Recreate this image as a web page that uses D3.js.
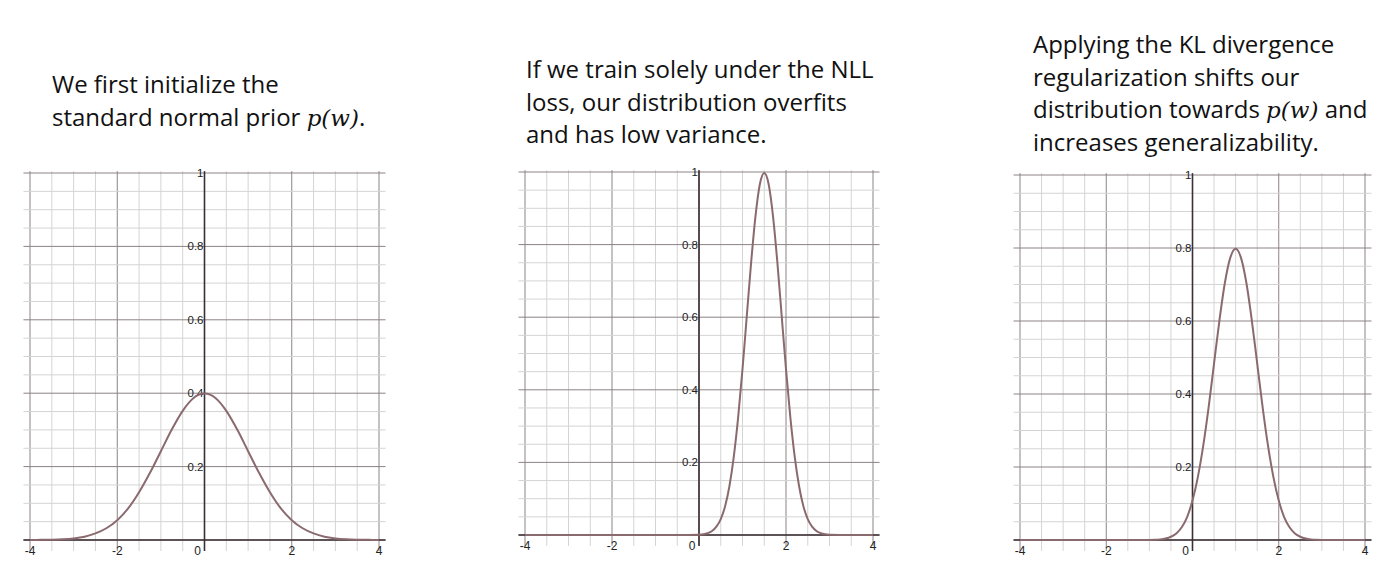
<!DOCTYPE html>
<html><head><meta charset="utf-8">
<script src="https://cdn.jsdelivr.net/npm/d3@7"></script>
<style>body{margin:0;background:#fff}</style>
</head><body><div class="canvas"></div>
<script>
// curve samples
const xs1 = [-4,-3.75,-3.5,-3.25,-3,-2.75,-2.5,-2.25,-2,-1.75,-1.5,-1.25,-1,-0.75,-0.5,-0.25,0,0.25,0.5,0.75,1,1.25,1.5,1.75,2,2.25,2.5,2.75,3,3.25,3.5,3.75,4];
const ys1 = [0.0001,0.0004,0.0009,0.002,0.0044,0.009,0.018,0.032,0.054,0.086,0.130,0.183,0.242,0.301,0.352,0.387,0.399,0.387,0.352,0.301,0.242,0.183,0.130,0.086,0.054,0.032,0.018,0.009,0.0044,0.002,0.0009,0.0004,0.0001];
const xs2 = [-4,-0.5,0,0.1,0.2,0.3,0.4,0.5,0.6,0.7,0.8,0.9,1.0,1.1,1.2,1.3,1.4,1.5,1.6,1.7,1.8,1.9,2.0,2.1,2.2,2.3,2.4,2.5,2.6,2.7,2.8,2.9,3.0,3.5,4];
const ys2 = [0,0,0.001,0.002,0.005,0.011,0.023,0.044,0.079,0.135,0.216,0.324,0.457,0.605,0.753,0.880,0.967,0.997,0.967,0.880,0.753,0.605,0.457,0.324,0.216,0.135,0.079,0.044,0.023,0.011,0.005,0.002,0.001,0,0];
const xs3 = [-4,-1.5,-1,-0.875,-0.75,-0.625,-0.5,-0.375,-0.25,-0.125,0,0.125,0.25,0.375,0.5,0.625,0.75,0.875,1,1.125,1.25,1.375,1.5,1.625,1.75,1.875,2,2.125,2.25,2.375,2.5,2.625,2.75,2.875,3,3.5,4];
const ys3 = [0,0,0.0003,0.0007,0.0017,0.004,0.0089,0.018,0.035,0.063,0.108,0.173,0.259,0.365,0.484,0.602,0.704,0.773,0.798,0.773,0.704,0.602,0.484,0.365,0.259,0.173,0.108,0.063,0.035,0.018,0.0089,0.004,0.0017,0.0007,0.0003,0,0];
const xTicks = [-4,-2,0,2,4];
const yTicks = [0.2,0.4,0.6,0.8,1];

const titles1 = [["We first initialize the"],["standard normal prior ", "p(w)", "."]];
const titles2 = [["If we train solely under the NLL"],["loss, our distribution overfits"],["and has low variance."]];
const titles3 = [["Applying the KL divergence"],["regularization shifts our"],["distribution towards ","p(w)"," and"],["increases generalizability."]];

const svg = d3.select('.canvas').append('svg').attr('width',1400).attr('height',582);

const panels = [
  {xs: xs1, ys: ys1, x0: 30, x1: 379, y0: 540, y1: 173, titles: titles1, tx: 52, ty: 93},
  {xs: xs2, ys: ys2, x0: 525, x1: 873, y0: 535, y1: 172, titles: titles2, tx: 526, ty: 78},
  {xs: xs3, ys: ys3, x0: 1020, x1: 1365, y0: 540, y1: 175, titles: titles3, tx: 1033, ty: 53}
];

panels.forEach(p => {
  const x = d3.scaleLinear().domain([-4,4]).range([p.x0,p.x1]);
  const y = d3.scaleLinear().domain([0,1]).range([p.y0,p.y1]);
  const g = svg.append('g');
  const gx0 = x(-4.15), gx1 = x(4.15), gy0 = y(-0.03), gy1 = y(1.005);

  // minor and major grid
  d3.range(-8,9).forEach(i => {
    const v = i*0.5;
    g.append('line').attr('x1',x(v)).attr('x2',x(v)).attr('y1',gy0).attr('y2',gy1)
      .attr('stroke', i%4===0 ? '#8c8286' : '#d4d4d4').attr('stroke-width',1);
  });
  d3.range(0,21).forEach(i => {
    const v = i*0.05;
    g.append('line').attr('y1',y(v)).attr('y2',y(v)).attr('x1',gx0).attr('x2',gx1)
      .attr('stroke', i%4===0 ? '#8c8286' : '#d4d4d4').attr('stroke-width',1);
  });
  // axes
  g.append('line').attr('x1',gx0).attr('x2',gx1).attr('y1',y(0)).attr('y2',y(0)).attr('stroke','#3a2f33').attr('stroke-width',1.6);
  g.append('line').attr('x1',x(0)).attr('x2',x(0)).attr('y1',gy0).attr('y2',gy1).attr('stroke','#3a2f33').attr('stroke-width',1.6);

  g.selectAll('.xl').data(xTicks).enter().append('text')
    .attr('x', d => x(d) + (d===0 ? -7 : 0)).attr('y', y(0)+15)
    .attr('text-anchor','middle').attr('font-family','Liberation Sans, Arial').attr('font-size',12)
    .attr('fill','#222').text(d => d);
  g.selectAll('.yl').data(yTicks).enter().append('text')
    .attr('x', x(0)-1).attr('y', d => y(d)+4)
    .attr('text-anchor','end').attr('font-family','Liberation Sans, Arial').attr('font-size',11.5)
    .attr('fill','#222').text(d => d);

  const pts = p.xs.map((v,i) => [v,p.ys[i]]);
  g.append('path').datum(pts)
    .attr('d', d3.line().x(d => x(d[0])).y(d => y(d[1])).curve(d3.curveMonotoneX))
    .attr('fill','none').attr('stroke','#8a6a6e').attr('stroke-width',2);

  p.titles.forEach((line,i) => {
    const t = svg.append('text').attr('x',p.tx).attr('y',p.ty + i*32.5)
      .attr('font-family','Open Sans, Lato, sans-serif').attr('font-size',24).attr('fill','#111');
    line.forEach(s => {
      const ts = t.append('tspan').text(s);
      if (s === 'p(w)') ts.attr('font-family','DejaVu Serif, serif').attr('font-style','italic').attr('font-size',23);
    });
  });
});
</script></body></html>
